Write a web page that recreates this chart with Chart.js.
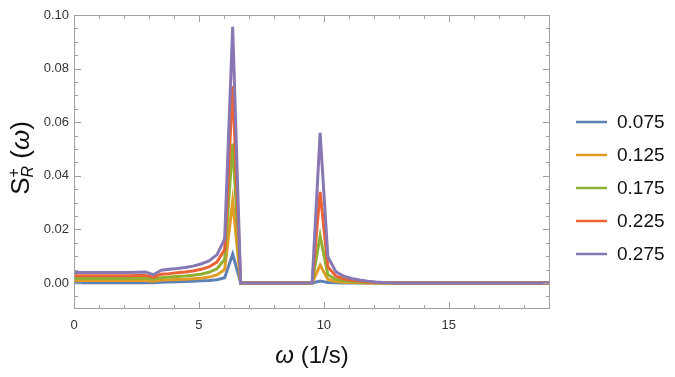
<!DOCTYPE html>
<html>
<head>
<meta charset="utf-8">
<script src="https://cdn.jsdelivr.net/npm/chart.js@4.4.1/dist/chart.umd.min.js"></script>
<style>
html, body { margin: 0; padding: 0; background: #fff; }
</style>
</head>
<body>
<canvas id="chart" width="675" height="377"></canvas>
<script>
// frequency grid (1/s)
const omega = [0, 0.32, 0.64, 0.95, 1.27, 1.59, 1.91, 2.22, 2.54, 2.86,
    3.18, 3.49, 3.81, 4.13, 4.45, 4.76, 5.08, 5.40, 5.72, 6.03,
    6.35, 6.67, 6.99, 7.30, 7.62, 7.94, 8.26, 8.57, 8.89, 9.21,
    9.53, 9.85, 10.16, 10.48, 10.80, 11.11, 11.43, 11.75, 12.07, 12.38,
    12.70, 13.02, 13.34, 13.65, 13.97, 14.29, 14.61, 14.92, 15.24, 15.56,
    15.88, 16.19, 16.51, 16.83, 17.15, 17.46, 17.78, 18.10, 18.42, 18.73, 19.05];

const labels = ['0.075', '0.125', '0.175', '0.225', '0.275'];

const s075 = [0.0001, 0.0001, 0.0001, 0.0001, 0.0001, 0.0001, 0.0001, 0.0001, 0.0001, 0.0001,
    0.0001, 0.0003, 0.0004, 0.0005, 0.0006, 0.0007, 0.0008, 0.0009, 0.0012, 0.0020,
    0.0108, 0, 0, 0, 0, 0, 0, 0, 0, 0,
    0, 0.0007, 0.0002, 0.0001, 0, 0, 0, 0, 0, 0,
    0, 0, 0, 0, 0, 0, 0, 0, 0, 0,
    0, 0, 0, 0, 0, 0, 0, 0, 0, 0, 0];
const s125 = [0.0009, 0.0009, 0.0009, 0.0009, 0.0009, 0.0009, 0.0009, 0.0009, 0.0009, 0.0009,
    0.0007, 0.0011, 0.0012, 0.0013, 0.0014, 0.0016, 0.0018, 0.0022, 0.0030, 0.0050,
    0.0306, 0, 0, 0, 0, 0, 0, 0, 0, 0,
    0, 0.0067, 0.0013, 0.0006, 0.0003, 0.0002, 0.0001, 0, 0, 0,
    0, 0, 0, 0, 0, 0, 0, 0, 0, 0,
    0, 0, 0, 0, 0, 0, 0, 0, 0, 0, 0];
const s175 = [0.0017, 0.0017, 0.0017, 0.0017, 0.0017, 0.0017, 0.0017, 0.0017, 0.0018, 0.0018,
    0.0014, 0.0020, 0.0022, 0.0024, 0.0026, 0.0029, 0.0033, 0.0040, 0.0053, 0.0088,
    0.0520, 0, 0, 0, 0, 0, 0, 0, 0, 0,
    0, 0.0176, 0.0031, 0.0014, 0.0008, 0.0005, 0.0003, 0.0002, 0.0001, 0,
    0, 0, 0, 0, 0, 0, 0, 0, 0, 0,
    0, 0, 0, 0, 0, 0, 0, 0, 0, 0, 0];
const s225 = [0.0027, 0.0027, 0.0027, 0.0027, 0.0027, 0.0027, 0.0027, 0.0027, 0.0028, 0.0028,
    0.0022, 0.0033, 0.0035, 0.0038, 0.0041, 0.0045, 0.0051, 0.0060, 0.0078, 0.0125,
    0.0735, 0, 0, 0, 0, 0, 0, 0, 0, 0,
    0, 0.0340, 0.0060, 0.0026, 0.0015, 0.0010, 0.0007, 0.0004, 0.0002, 0.0001,
    0, 0, 0, 0, 0, 0, 0, 0, 0, 0,
    0, 0, 0, 0, 0, 0, 0, 0, 0, 0, 0];
const s275 = [0.0039, 0.0039, 0.0039, 0.0039, 0.0039, 0.0039, 0.0039, 0.0039, 0.0040, 0.0041,
    0.0031, 0.0048, 0.0051, 0.0054, 0.0058, 0.0063, 0.0071, 0.0082, 0.0105, 0.0165,
    0.0956, 0, 0, 0, 0, 0, 0, 0, 0, 0,
    0, 0.0560, 0.0098, 0.0042, 0.0025, 0.0017, 0.0011, 0.0007, 0.0004, 0.0002,
    0.0001, 0, 0, 0, 0, 0, 0, 0, 0, 0,
    0, 0, 0, 0, 0, 0, 0, 0, 0, 0, 0];

const xTicks = [0, 5, 10, 15];
const yTicks = [0, 0.02, 0.04, 0.06, 0.08, 0.10];

const series = [s075, s125, s175, s225, s275];
const colors = ['#5E81B5', '#E19C24', '#8FB032', '#EB6235', '#8778B3'];

const FONT = '"Liberation Sans", Arial, sans-serif';

// mathematica style frame with inward ticks on all four sides
const framePlugin = {
    id: 'frame',
    afterDatasetsDraw(chart) {
        const { ctx, chartArea: a, scales: { x, y } } = chart;
        ctx.save();
        ctx.strokeStyle = '#a0a0a0';
        ctx.lineWidth = 1;
        ctx.strokeRect(a.left + 0.5, a.top + 0.5, a.right - a.left - 1, a.bottom - a.top - 1);

        ctx.beginPath();
        for (let v = 0; v <= 19; v++) {
            const len = xTicks.includes(v) ? 7 : 4;
            const px = Math.round(x.getPixelForValue(v)) + 0.5;
            ctx.moveTo(px, a.bottom); ctx.lineTo(px, a.bottom - len);
            ctx.moveTo(px, a.top); ctx.lineTo(px, a.top + len);
        }
        for (let k = -1; k <= 20; k++) {
            const v = k * 0.005;
            if (v < y.min || v > y.max + 1e-9) continue;
            const len = k % 4 === 0 ? 7 : 4;
            const py = Math.round(y.getPixelForValue(v)) + 0.5;
            ctx.moveTo(a.left, py); ctx.lineTo(a.left + len, py);
            ctx.moveTo(a.right, py); ctx.lineTo(a.right - len, py);
        }
        ctx.stroke();
        ctx.restore();
    },
    afterDraw(chart) {
        const { ctx, chartArea: a } = chart;
        ctx.save();
        ctx.fillStyle = '#111';

        // x title: ω (1/s)
        ctx.textBaseline = 'alphabetic';
        const big = 24;
        ctx.font = 'italic ' + big + 'px ' + FONT;
        const wOm = ctx.measureText('ω').width;
        ctx.font = big + 'px ' + FONT;
        const wRest = ctx.measureText(' (1/s)').width;
        let cx = (a.left + a.right) / 2 - (wOm + wRest) / 2;
        ctx.font = 'italic ' + big + 'px ' + FONT;
        ctx.fillText('ω', cx, 363);
        ctx.font = big + 'px ' + FONT;
        ctx.fillText(' (1/s)', cx + wOm, 363);

        // y title: S_R^+ (ω), rotated
        const yb = 26, small = 16;
        ctx.translate(29, 158);
        ctx.rotate(-Math.PI / 2);
        ctx.font = yb + 'px ' + FONT;
        const wS = ctx.measureText('S').width;
        ctx.font = 'italic ' + small + 'px ' + FONT;
        const wR = ctx.measureText('R').width;
        ctx.font = small + 'px ' + FONT;
        const wP = ctx.measureText('+').width;
        const wSub = Math.max(wR, wP);
        ctx.font = yb + 'px ' + FONT;
        const wOpen = ctx.measureText(' (').width;
        ctx.font = 'italic ' + yb + 'px ' + FONT;
        const wW = ctx.measureText('ω').width;
        ctx.font = yb + 'px ' + FONT;
        const wClose = ctx.measureText(')').width;
        const total = wS + wSub + wOpen + wW + wClose;
        let t = -total / 2;
        ctx.font = yb + 'px ' + FONT;
        ctx.fillText('S', t, 0); t += wS;
        ctx.font = 'italic ' + small + 'px ' + FONT;
        ctx.fillText('R', t, 4);
        ctx.font = small + 'px ' + FONT;
        ctx.fillText('+', t, -10);
        t += wSub;
        ctx.font = yb + 'px ' + FONT;
        ctx.fillText(' (', t, 0); t += wOpen;
        ctx.font = 'italic ' + yb + 'px ' + FONT;
        ctx.fillText('ω', t, 0); t += wW;
        ctx.font = yb + 'px ' + FONT;
        ctx.fillText(')', t, 0);
        ctx.restore();

        // legend on the right
        ctx.save();
        ctx.font = '19px ' + FONT;
        ctx.textBaseline = 'middle';
        labels.forEach((lab, i) => {
            const ly = 122 + 33 * i;
            ctx.strokeStyle = colors[i];
            ctx.lineWidth = 2.5;
            ctx.beginPath();
            ctx.moveTo(576, ly); ctx.lineTo(607, ly);
            ctx.stroke();
            ctx.fillStyle = '#111';
            ctx.fillText(lab, 617, ly + 1);
        });
        ctx.restore();
    }
};

new Chart(document.getElementById('chart'), {
    type: 'line',
    data: {
        datasets: series.map((s, i) => ({
            label: labels[i],
            data: omega.map((w, j) => ({ x: w, y: s[j] })),
            borderColor: colors[i],
            borderWidth: 3,
            pointRadius: 0,
            tension: 0,
            fill: false,
            order: series.length - i
        }))
    },
    options: {
        responsive: false,
        animation: false,
        events: [],
        layout: { padding: { left: 0, top: 15, right: 125, bottom: 0 } },
        plugins: {
            legend: { display: false },
            tooltip: { enabled: false }
        },
        scales: {
            x: {
                type: 'linear',
                min: 0,
                max: 19.05,
                grid: { display: false, drawTicks: false },
                border: { display: false },
                ticks: {
                    padding: 9,
                    color: '#333',
                    font: { family: FONT, size: 13 },
                    callback: v => String(v)
                },
                afterBuildTicks: s => { s.ticks = xTicks.map(v => ({ value: v })); },
                afterFit: s => { s.height = 68; }
            },
            y: {
                min: -0.0097,
                max: 0.10,
                grid: { display: false, drawTicks: false },
                border: { display: false },
                ticks: {
                    padding: 5,
                    color: '#333',
                    font: { family: FONT, size: 13 },
                    callback: v => v.toFixed(2)
                },
                afterBuildTicks: s => { s.ticks = yTicks.map(v => ({ value: v })); },
                afterFit: s => { s.width = 74; }
            }
        }
    },
    plugins: [framePlugin]
});
</script>
</body>
</html>
